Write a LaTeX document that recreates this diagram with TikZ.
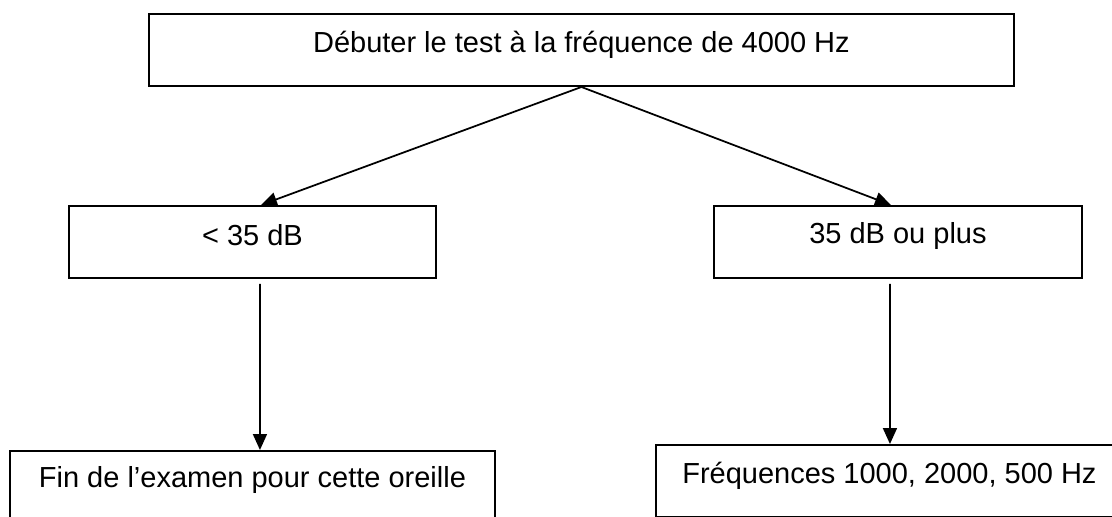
\documentclass[tikz,border=0pt]{standalone}
\usepackage{fontspec}
\setmainfont{Liberation Sans}
\usepackage{tikz}
\usetikzlibrary{calc,arrows.meta}
\tikzset{
	box/.style={draw, line width=0.4mm, inner sep=0pt, anchor=north west, font=\fontsize{16.5pt}{20pt}\selectfont},
	arr/.style={line width=0.35mm, -{Triangle[length=0.32cm, width=0.28cm]}}
}

\begin{document}
\begin{tikzpicture}[x=0.02cm, y=-0.02cm]
			%%%%% START %%%%%
			
			\useasboundingbox (0, 0) rectangle (1112, 517);
			
			\node[box, minimum width=17.3cm, text height=0.78cm, text depth=0.66cm] (debut) at (148, 13) {Débuter le test à la fréquence de 4000 Hz};
			
			\node[box, minimum width=7.34cm, text height=0.8cm, text depth=0.64cm] (bas) at (68, 205) {< 35 dB};
			\node[box, minimum width=7.36cm, text height=0.76cm, text depth=0.68cm] (haut) at (713, 205) {35 dB ou plus};
			
			\node[box, minimum width=9.7cm, text height=0.74cm, text depth=1.2cm] (fin) at (9, 450) {Fin de l’examen pour cette oreille};
			\node[box, minimum width=9.34cm, text height=0.78cm, text depth=0.66cm] (freq) at (655, 444) {Fréquences 1000, 2000, 500 Hz};
			
			\draw[arr] (debut.south) -- ($(bas.north)+(8.5, 0)$);
			\draw[arr] (debut.south) -- ($(haut.north)+(-7, 0)$);
			
			\draw[arr] ($(bas.south)+(7.5, 5)$) -- ($(fin.north)+(7.5, 0)$);
			\draw[arr] ($(haut.south)+(-8, 5)$) -- ($(freq.north)+(0.5, 0)$);
			
			%%%%% END %%%%%
		\end{tikzpicture}
\end{document}
